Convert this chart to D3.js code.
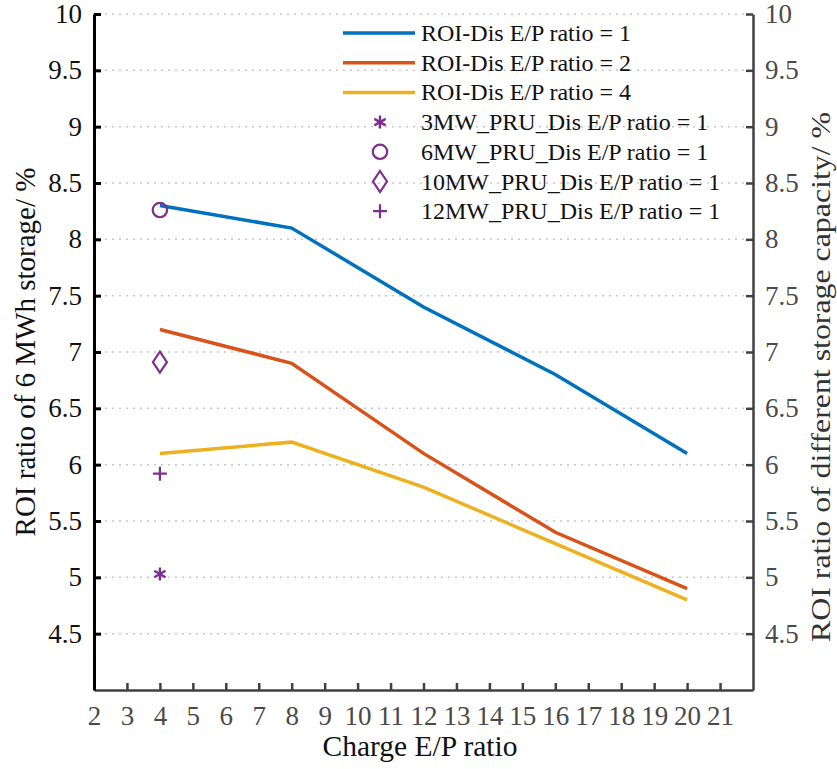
<!DOCTYPE html>
<html>
<head>
<meta charset="utf-8">
<script src="https://cdn.jsdelivr.net/npm/d3@7"></script>
<style>
  html, body { margin: 0; padding: 0; background: #fff; }
  svg { display: block; }
</style>
</head>
<body>
<svg id="chart" width="837" height="769"></svg>
<script>
// Charge E/P ratios sampled
const chargeRatios = [4, 8, 12, 16, 20];

// ROI ratio of 6 MWh storage (%) per discharge E/P ratio
const roiDis1 = [8.3, 8.1, 7.4, 6.8, 6.1];
const roiDis2 = [7.2, 6.9, 6.1, 5.4, 4.9];
const roiDis4 = [6.1, 6.2, 5.8, 5.3, 4.8];

// ROI ratio of different storage capacity (%), charge E/P = 4
const pruCharge = 4;
const pru3MW = 5.03;
const pru6MW = 8.26;
const pru10MW = 6.91;
const pru12MW = 5.92;

// Axis ticks
const xTicks = d3.range(2, 22);
const yTicks = d3.range(4.5, 10.01, 0.5);

const lineSeries = [
  { name: "ROI-Dis E/P ratio = 1", values: roiDis1, color: "#0072BD" },
  { name: "ROI-Dis E/P ratio = 2", values: roiDis2, color: "#D95319" },
  { name: "ROI-Dis E/P ratio = 4", values: roiDis4, color: "#EDB120" }
];
const purple = "#7E2F8E";
const pointSeries = [
  { name: "3MW_PRU_Dis E/P ratio = 1", value: pru3MW, shape: "asterisk" },
  { name: "6MW_PRU_Dis E/P ratio = 1", value: pru6MW, shape: "circle" },
  { name: "10MW_PRU_Dis E/P ratio = 1", value: pru10MW, shape: "diamond" },
  { name: "12MW_PRU_Dis E/P ratio = 1", value: pru12MW, shape: "plus" }
];

const FONT = "'Liberation Serif', 'Times New Roman', serif";
const svg = d3.select("#chart").style("font-family", FONT);
const plotL = 94, plotR = 753, plotT = 14, plotB = 690;

const x = d3.scaleLinear().domain([2, 22]).range([plotL, plotR]);
const yL = d3.scaleLinear().domain([4, 10]).range([plotB, plotT]);
const yR = d3.scaleLinear().domain([4, 10]).range([plotB, plotT]);

// Dotted horizontal grid
svg.append("g")
  .selectAll("line")
  .data(yTicks)
  .join("line")
  .attr("x1", plotL + 4).attr("x2", plotR - 4)
  .attr("y1", d => yL(d)).attr("y2", d => yL(d))
  .attr("stroke", "#c8c8c8")
  .attr("stroke-width", 1.5)
  .attr("stroke-dasharray", "2,5");

function styleAxis(g, color, width, textColor) {
  g.attr("font-family", FONT).attr("font-size", 27);
  g.select(".domain").attr("stroke", color).attr("stroke-width", width);
  g.selectAll(".tick line").attr("stroke", color).attr("stroke-width", width);
  g.selectAll(".tick text").attr("fill", textColor).style("font-family", FONT).style("font-size", "27px");
}

// Bottom axis
const xAxis = svg.append("g")
  .attr("transform", `translate(0,${plotB})`)
  .call(d3.axisBottom(x).tickValues(xTicks).tickSizeInner(-7).tickSizeOuter(0).tickPadding(16).tickFormat(d3.format("d")));
styleAxis(xAxis, "#404040", 2.5, "#4a4a4a");

// Right axis
const yRAxis = svg.append("g")
  .attr("transform", `translate(${plotR},0)`)
  .call(d3.axisRight(yR).tickValues(yTicks).tickSizeInner(-7).tickSizeOuter(0).tickPadding(12).tickFormat(d3.format("")));
styleAxis(yRAxis, "#404040", 2.5, "#4a4a4a");

// Left axis
const yLAxis = svg.append("g")
  .attr("transform", `translate(${plotL},0)`)
  .call(d3.axisLeft(yL).tickValues(yTicks).tickSizeInner(-7).tickSizeOuter(0).tickPadding(12).tickFormat(d3.format("")));
styleAxis(yLAxis, "#000", 3, "#111");

// Axis titles
svg.append("text")
  .attr("x", 420).attr("y", 756)
  .attr("text-anchor", "middle")
  .style("font-family", FONT).style("font-size", "29.5px").attr("fill", "#111")
  .text("Charge E/P ratio");
svg.append("text")
  .attr("transform", "translate(35,352) rotate(-90)")
  .attr("text-anchor", "middle")
  .style("font-family", FONT).style("font-size", "29px").attr("fill", "#111")
  .text("ROI ratio of 6 MWh storage/ %");
svg.append("text")
  .attr("transform", "translate(830,377) rotate(-90)")
  .attr("text-anchor", "middle")
  .attr("textLength", 530)
  .attr("lengthAdjust", "spacingAndGlyphs")
  .style("font-family", FONT).style("font-size", "28px").attr("fill", "#333")
  .text("ROI ratio of different storage capacity/ %");

// Lines
const line = d3.line().x((d, i) => x(chargeRatios[i])).y(d => yL(d));
svg.append("g")
  .selectAll("path")
  .data(lineSeries)
  .join("path")
  .attr("d", d => line(d.values))
  .attr("fill", "none")
  .attr("stroke", d => d.color)
  .attr("stroke-width", 3.5);

// Marker drawing
function drawMarker(g, shape, cx, cy) {
  if (shape === "circle") {
    g.append("circle").attr("cx", cx).attr("cy", cy).attr("r", 7.2)
      .attr("fill", "none").attr("stroke", purple).attr("stroke-width", 2.2);
  } else if (shape === "diamond") {
    g.append("path")
      .attr("d", `M${cx},${cy - 10.5}L${cx + 7},${cy}L${cx},${cy + 10.5}L${cx - 7},${cy}Z`)
      .attr("fill", "none").attr("stroke", purple).attr("stroke-width", 2.2);
  } else if (shape === "plus") {
    g.append("path")
      .attr("d", `M${cx - 7},${cy}H${cx + 7}M${cx},${cy - 7}V${cy + 7}`)
      .attr("fill", "none").attr("stroke", purple).attr("stroke-width", 2.2);
  } else if (shape === "asterisk") {
    const r = 6.5, a = r * Math.cos(Math.PI / 6), b = r * Math.sin(Math.PI / 6);
    g.append("path")
      .attr("d", `M${cx},${cy - r}V${cy + r}M${cx - a},${cy - b}L${cx + a},${cy + b}M${cx - a},${cy + b}L${cx + a},${cy - b}`)
      .attr("fill", "none").attr("stroke", purple).attr("stroke-width", 2.4);
  }
}

const pts = svg.append("g");
pointSeries.forEach(p => drawMarker(pts, p.shape, x(pruCharge), yR(p.value)));

// Legend
const legend = svg.append("g");
const lgX0 = 343, lgX1 = 415, lgText = 421, lgY0 = 33, lgDy = 29.7;
lineSeries.forEach((s, i) => {
  const yy = lgY0 + i * lgDy;
  legend.append("line").attr("x1", lgX0).attr("x2", lgX1).attr("y1", yy).attr("y2", yy)
    .attr("stroke", s.color).attr("stroke-width", 3.5);
  legend.append("text").attr("x", lgText).attr("y", yy + 8)
    .style("font-family", FONT).style("font-size", "24px").attr("fill", "#111").text(s.name);
});
pointSeries.forEach((p, j) => {
  const yy = lgY0 + (j + 3) * lgDy;
  drawMarker(legend, p.shape, (lgX0 + lgX1) / 2 + 1, yy);
  legend.append("text").attr("x", lgText).attr("y", yy + 8)
    .style("font-family", FONT).style("font-size", "24px").attr("fill", "#111").text(p.name);
});
</script>
</body>
</html>
